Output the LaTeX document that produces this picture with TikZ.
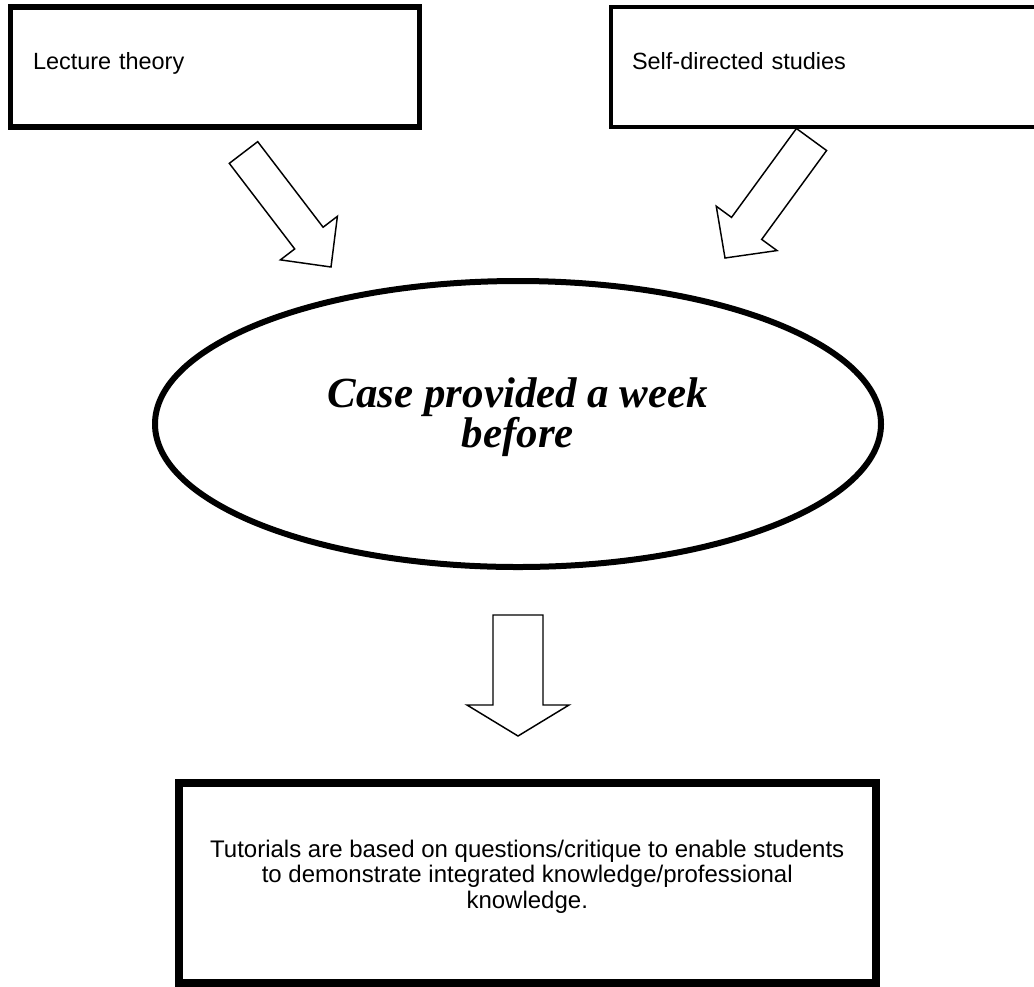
\documentclass[tikz,border=0pt]{standalone}
\usepackage{fontspec}
\usepackage{tikz}
\usetikzlibrary{shapes.geometric,calc}
\newfontfamily\arialfont{Liberation Sans}
\newfontfamily\timesfont{Liberation Serif}

\tikzset{
  stagebox/.style={draw=black, fill=white, rectangle, inner ysep=0pt,
    minimum height=90pt, text height=10.5pt, text depth=7.5pt, align=left,
    font=\arialfont\fontsize{17.6}{19.1}\selectfont},
  tutorbox/.style={draw=black, fill=white, rectangle, inner sep=0pt,
    line width=6pt, minimum width=522.4pt, minimum height=150pt,
    text depth=13.3pt, align=center,
    font=\arialfont\fontsize{18}{19.3}\selectfont},
  caseoval/.style={draw=black, fill=white, ellipse, inner sep=0pt,
    line width=4.5pt, minimum width=544.5pt, minimum height=214.5pt,
    text depth=17.25pt, align=center,
    font=\timesfont\bfseries\itshape\fontsize{32.2}{29.25}\selectfont},
  blockarrowline/.style={draw=black, fill=white, line width=1.1pt, line join=miter}
}

% #1 tail, #2 tip, #3 half shaft, #4 half head, #5 head length
\newcommand{\blockarrow}[5]{%
  \path[blockarrowline] ($(#1)!#3!90:(#2)$)
    -- ($(#2)!#5!(#1)!#3!90:(#2)$) -- ($(#2)!#5!(#1)!#4!90:(#2)$)
    -- (#2)
    -- ($(#2)!#5!(#1)!#4!-90:(#2)$) -- ($(#2)!#5!(#1)!#3!-90:(#2)$)
    -- ($(#1)!#3!-90:(#2)$) -- cycle;}

\begin{document}
\begin{tikzpicture}[x=0.75pt,y=-0.75pt]
\useasboundingbox (0,0) rectangle (1034,986);
\clip (0,0) rectangle (1034,986);
% boxes:
\node[stagebox, line width=4.1pt, minimum width=306.75pt, inner xsep=16.9pt,
  text width=273pt] (lecture) at (215,67) {Lecture theory};
\node[stagebox, line width=3pt, minimum width=325.5pt, inner xsep=15.75pt,
  text width=294pt] (selfstudy) at (828,67) {Self-directed studies};
\node[caseoval] (case) at (518,424) {Case provided a week\\before};
\node[tutorbox] (tutorials) at (527.25,883)
  {Tutorials are based on questions/critique to enable students\\
   to demonstrate integrated knowledge/professional\\
   knowledge.};
% arrows:
\coordinate (lectail) at (243.5,152.5);
\coordinate (lectip) at (331,267);
\coordinate (selftail) at (811.5,139.5);
\coordinate (selftip) at (725,258);
\coordinate (casetail) at (518,615);
\coordinate (casetip) at (518,736);
\blockarrow{lectail}{lectip}{13.4pt}{26.9pt}{27.3pt}
\blockarrow{selftail}{selftip}{14pt}{28.2pt}{27.5pt}
\blockarrow{casetail}{casetip}{18.75pt}{38.25pt}{23.25pt}
\end{tikzpicture}
\end{document}
